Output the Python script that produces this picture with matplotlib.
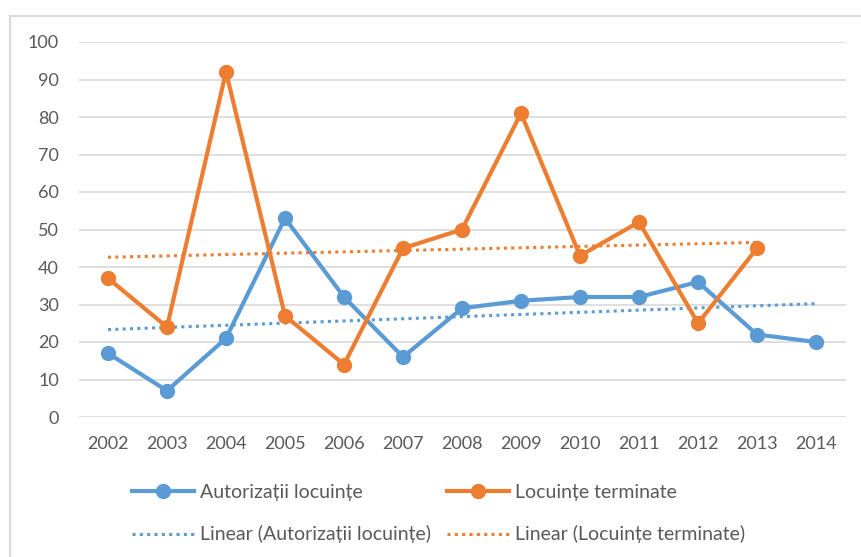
import numpy as np
import matplotlib
matplotlib.use("Agg")
import matplotlib.pyplot as plt
from matplotlib.patches import Rectangle

# data
years = ["2002", "2003", "2004", "2005", "2006", "2007", "2008",
         "2009", "2010", "2011", "2012", "2013", "2014"]
autorizatii = [17, 7, 21, 53, 32, 16, 29, 31, 32, 32, 36, 22, 20]
terminate = [37, 24, 92, 27, 14, 45, 50, 81, 43, 52, 25, 45]

blue = "#5B9BD5"
orange = "#ED7D31"
gray_text = "#595959"

plt.rcParams["font.family"] = ["Lato", "DejaVu Sans"]

fig = plt.figure(figsize=(8.61, 5.57), dpi=100)
fig.patches.append(Rectangle((10 / 861, -0.1), 1.0, 1 - 16 / 557 + 0.1,
                             transform=fig.transFigure, fill=False,
                             edgecolor="#D9D9D9", linewidth=1.5))

ax = fig.add_axes([78.5 / 861, 140 / 557, 767 / 861, 375 / 557])

xa = np.arange(len(autorizatii))
xt = np.arange(len(terminate))

# linear trendlines, as Excel does them
ka, ba = np.polyfit(xa, autorizatii, 1)
kt, bt = np.polyfit(xt, terminate, 1)
la, = ax.plot(xa, ka * xa + ba, color=blue, lw=2.2, linestyle=(0, (1, 1.4)),
              label="Linear (Autorizații locuințe)", zorder=2)
lt, = ax.plot(xt, kt * xt + bt, color=orange, lw=2.2, linestyle=(0, (1, 1.4)),
              label="Linear (Locuințe terminate)", zorder=2)

pa, = ax.plot(xa, autorizatii, color=blue, lw=3, marker="o", markersize=10,
              label="Autorizații locuințe", zorder=3)
pt, = ax.plot(xt, terminate, color=orange, lw=3, marker="o", markersize=10,
              label="Locuințe terminate", zorder=4)

ax.set_xlim(-0.5, len(years) - 0.5)
ax.set_ylim(0, 100)
ax.set_yticks(range(0, 101, 10))
ax.set_xticks(range(len(years)))
ax.set_xticklabels(years)
ax.grid(axis="y", color="#D9D9D9", linewidth=1.2)
ax.set_axisbelow(True)
for s in ax.spines.values():
    s.set_visible(False)
ax.tick_params(length=0, labelsize=13, colors=gray_text)
ax.tick_params(axis="x", pad=14)
ax.tick_params(axis="y", pad=14)

leg = ax.legend(handles=[pa, la, pt, lt], ncol=2, frameon=False,
                loc="upper left", bbox_to_anchor=(132 / 861, 1 - 484 / 557),
                bbox_transform=fig.transFigure, fontsize=14,
                handlelength=3.2, handletextpad=0.3, columnspacing=0.8,
                labelspacing=1.25, borderaxespad=0, borderpad=0)
for t in leg.get_texts():
    t.set_color(gray_text)

fig.savefig("out.png", dpi=100)
